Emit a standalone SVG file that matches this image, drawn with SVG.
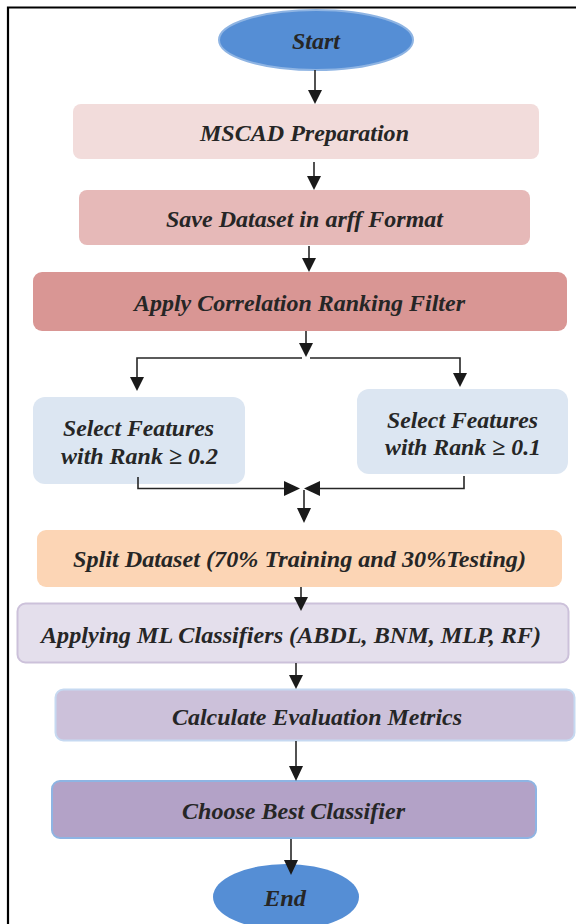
<svg xmlns="http://www.w3.org/2000/svg" width="576" height="924" viewBox="0 0 576 924" font-family="Liberation Serif, Times New Roman, serif" font-weight="bold" font-style="italic">
<defs>
<style>
.t{font-size:24px;fill:#262626;text-anchor:middle;dominant-baseline:central}
.c{stroke:#262626;stroke-width:1.6;fill:none}
.a{fill:#1a1a1a}
</style>
</defs>
<rect width="576" height="924" fill="#ffffff"/>
<path d="M8,924 V7.5 H576" fill="none" stroke="#000" stroke-width="2.2"/>

<g id="start">
<ellipse cx="316" cy="40" rx="97" ry="30" fill="#558ed5" stroke="#8eb4e3" stroke-width="2"/>
<text class="t" x="316" y="41" textLength="48" lengthAdjust="spacingAndGlyphs">Start</text>
</g>
<g id="mscad">
<rect x="73" y="104" width="466" height="55" rx="8" fill="#f2dcdb"/>
<text class="t" x="304.5" y="133" textLength="209" lengthAdjust="spacingAndGlyphs">MSCAD Preparation</text>
</g>
<g id="save">
<rect x="79" y="190" width="451" height="55" rx="8" fill="#e6b9b8"/>
<text class="t" x="304.5" y="219" textLength="277" lengthAdjust="spacingAndGlyphs">Save Dataset in arff Format</text>
</g>
<g id="apply">
<rect x="33" y="272" width="534" height="59" rx="9" fill="#d99694"/>
<text class="t" x="299.5" y="303" textLength="331" lengthAdjust="spacingAndGlyphs">Apply Correlation Ranking Filter</text>
</g>
<g id="sel02">
<rect x="33" y="397" width="212" height="87" rx="12" fill="#dce6f2"/>
<text class="t" x="138.5" y="428" textLength="151" lengthAdjust="spacingAndGlyphs">Select Features</text>
<text class="t" x="139.5" y="456" textLength="157" lengthAdjust="spacingAndGlyphs">with Rank ≥ 0.2</text>
</g>
<g id="sel01">
<rect x="357" y="389" width="211" height="85" rx="12" fill="#dce6f2"/>
<text class="t" x="462.5" y="420" textLength="151" lengthAdjust="spacingAndGlyphs">Select Features</text>
<text class="t" x="463" y="447" textLength="156" lengthAdjust="spacingAndGlyphs">with Rank ≥ 0.1</text>
</g>
<g id="split">
<rect x="37" y="530" width="525" height="57" rx="9" fill="#fcd5b5"/>
<text class="t" x="299.5" y="559" textLength="453" lengthAdjust="spacingAndGlyphs">Split Dataset (70% Training and 30%Testing)</text>
</g>
<g id="applyml">
<rect x="17.5" y="603.5" width="551" height="59" rx="8" fill="#e4dfec" stroke="#ccc1da" stroke-width="2"/>
<text class="t" x="291" y="635" textLength="500" lengthAdjust="spacingAndGlyphs">Applying ML Classifiers (ABDL, BNM, MLP, RF)</text>
</g>
<g id="calc">
<rect x="55.5" y="689.5" width="519" height="51" rx="8" fill="#ccc1da" stroke="#c6d9f1" stroke-width="2"/>
<text class="t" x="317" y="717" textLength="290" lengthAdjust="spacingAndGlyphs">Calculate Evaluation Metrics</text>
</g>
<g id="choose">
<rect x="52" y="781" width="484" height="57" rx="8" fill="#b3a2c7" stroke="#8eb4e3" stroke-width="2"/>
<text class="t" x="293.5" y="811" textLength="223" lengthAdjust="spacingAndGlyphs">Choose Best Classifier</text>
</g>
<g id="end">
<ellipse cx="286" cy="897" rx="73" ry="33" fill="#558ed5"/>
<text class="t" x="285" y="898" textLength="42" lengthAdjust="spacingAndGlyphs">End</text>
</g>

<g id="connectors">
<g class="c">
<line x1="315" y1="70" x2="315" y2="92"/>
<line x1="314" y1="162" x2="314" y2="180"/>
<line x1="309" y1="246" x2="309" y2="260"/>
<line x1="306" y1="331" x2="306" y2="344"/>
<path d="M137,378 V358 H302 M310,358 H460 V374"/>
<path d="M138,477 V488.5 H285"/>
<path d="M464,476 V488.5 H319"/>
<line x1="304" y1="490" x2="304" y2="509"/>
<line x1="301" y1="587" x2="301" y2="598"/>
<line x1="296" y1="663" x2="296" y2="676"/>
<line x1="296" y1="741" x2="296" y2="767"/>
<line x1="291" y1="839" x2="291" y2="861"/>
</g>
<g class="a">
<path d="M308,90 L322,90 L315,104 z"/>
<path d="M307,176 L321,176 L314,190 z"/>
<path d="M302,258 L316,258 L309,272 z"/>
<path d="M299,343 L313,343 L306,357 z"/>
<path d="M130,377 L144,377 L137,391 z"/>
<path d="M453,373 L467,373 L460,387 z"/>
<path d="M284,481 L284,496 L300,488.5 z"/>
<path d="M320,481 L320,496 L304,488.5 z"/>
<path d="M297,508 L311,508 L304,523 z"/>
<path d="M294,597 L308,597 L301,611 z"/>
<path d="M289,675 L303,675 L296,689 z"/>
<path d="M289,766 L303,766 L296,781 z"/>
<path d="M284,860 L298,860 L291,875 z"/>
</g>
</g>
</svg>
